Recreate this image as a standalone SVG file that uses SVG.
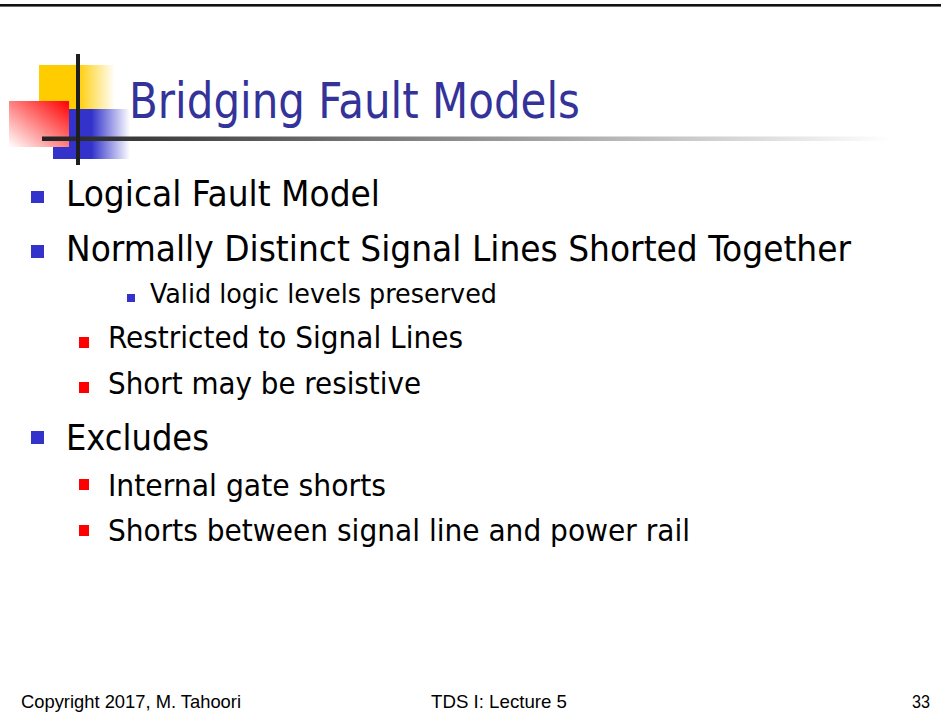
<svg xmlns="http://www.w3.org/2000/svg" width="941" height="719" viewBox="0 0 941 719">
  <defs>
    <linearGradient id="gYellow" x1="0" y1="0" x2="1" y2="0">
      <stop offset="0" stop-color="#FFCC00"/>
      <stop offset="0.5" stop-color="#FFCC00"/>
      <stop offset="1" stop-color="#FFCC00" stop-opacity="0"/>
    </linearGradient>
    <linearGradient id="gBlue" x1="0" y1="0" x2="1" y2="0">
      <stop offset="0" stop-color="#3333CC"/>
      <stop offset="0.5" stop-color="#3333CC"/>
      <stop offset="1" stop-color="#3333CC" stop-opacity="0"/>
    </linearGradient>
    <linearGradient id="gRed" x1="1" y1="0" x2="0" y2="1">
      <stop offset="0" stop-color="#FF0000"/>
      <stop offset="1" stop-color="#FFFFFF"/>
    </linearGradient>
    <linearGradient id="gRule" x1="0" y1="0" x2="1" y2="0">
      <stop offset="0" stop-color="#222222"/>
      <stop offset="1" stop-color="#FFFFFF"/>
    </linearGradient>
  </defs>
  <style>
    .title { font-family: "DejaVu Sans Condensed", "DejaVu Sans", sans-serif; font-size: 49px; fill: #333399; }
    .l1 { font-family: "DejaVu Sans Condensed", "DejaVu Sans", sans-serif; font-size: 36px; fill: #000000; }
    .l2 { font-family: "DejaVu Sans Condensed", "DejaVu Sans", sans-serif; font-size: 31px; fill: #000000; }
    .l3 { font-family: "DejaVu Sans Condensed", "DejaVu Sans", sans-serif; font-size: 27px; fill: #000000; }
    .foot { font-family: "Liberation Sans Narrow", "Liberation Sans", sans-serif; font-size: 19px; fill: #000000; }
    .bBlue { fill: #3333CC; }
    .bRed { fill: #FF0000; }
  </style>

  <rect x="0" y="0" width="941" height="719" fill="#FFFFFF"/>

  <!-- top border -->
  <rect x="0" y="4" width="941" height="2.6" fill="#111111"/>

  <!-- title ornament -->
  <g id="logo">
    <rect x="39" y="65" width="76" height="44" fill="url(#gYellow)"/>
    <rect x="53" y="109" width="77" height="50" fill="url(#gBlue)"/>
    <rect x="9" y="101" width="60" height="46" fill="url(#gRed)"/>
    <rect x="42" y="136.5" width="850" height="4.5" fill="url(#gRule)"/>
    <rect x="76" y="54" width="4" height="111" fill="#1E1E1E"/>
  </g>

  <g id="title">
    <text class="title" x="129" y="118" textLength="451" lengthAdjust="spacingAndGlyphs">Bridging Fault Models</text>
  </g>

  <g id="bullets">
    <rect class="bBlue" x="31" y="191" width="13" height="12"/>
    <text class="l1" x="66" y="206" textLength="314" lengthAdjust="spacingAndGlyphs">Logical Fault Model</text>

    <rect class="bBlue" x="31" y="245" width="13" height="13"/>
    <text class="l1" x="66" y="261" textLength="785" lengthAdjust="spacingAndGlyphs">Normally Distinct Signal Lines Shorted Together</text>

    <rect class="bBlue" x="127" y="294" width="8" height="8"/>
    <text class="l3" x="150" y="303" textLength="347" lengthAdjust="spacingAndGlyphs">Valid logic levels preserved</text>

    <rect class="bRed" x="79" y="337" width="10" height="11"/>
    <text class="l2" x="108" y="348" textLength="355" lengthAdjust="spacingAndGlyphs">Restricted to Signal Lines</text>

    <rect class="bRed" x="79" y="382" width="10" height="11"/>
    <text class="l2" x="108" y="394" textLength="313" lengthAdjust="spacingAndGlyphs">Short may be resistive</text>

    <rect class="bBlue" x="31" y="431" width="13" height="13"/>
    <text class="l1" x="66" y="450" textLength="143" lengthAdjust="spacingAndGlyphs">Excludes</text>

    <rect class="bRed" x="79" y="479" width="10" height="11"/>
    <text class="l2" x="108" y="496" textLength="278" lengthAdjust="spacingAndGlyphs">Internal gate shorts</text>

    <rect class="bRed" x="79" y="525" width="10" height="11"/>
    <text class="l2" x="108" y="541" textLength="582" lengthAdjust="spacingAndGlyphs">Shorts between signal line and power rail</text>
  </g>

  <g id="footer">
    <text class="foot" x="21" y="708" textLength="220" lengthAdjust="spacingAndGlyphs">Copyright 2017, M. Tahoori</text>
    <text class="foot" x="431" y="708" textLength="136" lengthAdjust="spacingAndGlyphs">TDS I: Lecture 5</text>
    <text class="foot" x="912" y="708" textLength="18" lengthAdjust="spacingAndGlyphs">33</text>
  </g>
</svg>
